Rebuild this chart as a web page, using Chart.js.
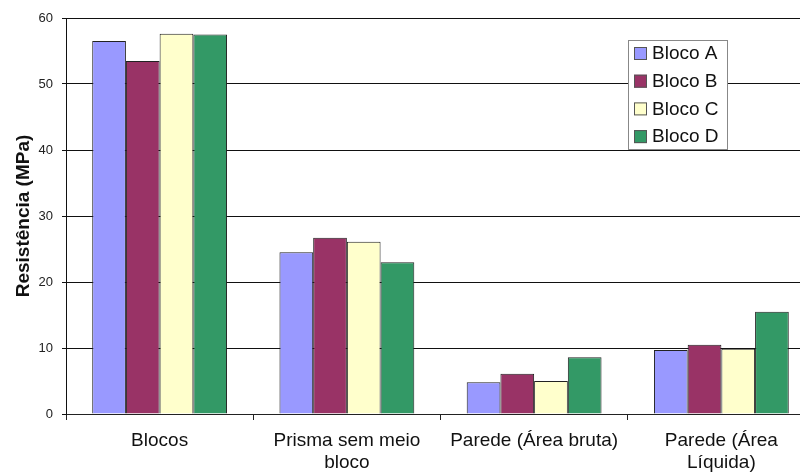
<!DOCTYPE html>
<html>
<head>
<meta charset="utf-8">
<script src="https://cdn.jsdelivr.net/npm/chart.js@4/dist/chart.umd.min.js"></script>
<style>
  html, body { margin: 0; padding: 0; background: #fff; overflow: hidden; }
  #wrap { width: 815px; height: 475px; }
</style>
</head>
<body>
<div id="wrap"><canvas id="chart" width="815" height="475"></canvas></div>
<script>
const categories = [
  'Blocos',
  ['Prisma sem meio', 'bloco'],
  'Parede (Área bruta)',
  ['Parede (Área', 'Líquida)']
];
const blocoA = [56.5, 24.5, 4.8, 9.7];
const blocoB = [53.5, 26.7, 6.1, 10.5];
const blocoC = [57.6, 26.1, 5.0, 9.9];
const blocoD = [57.5, 23.0, 8.6, 15.5];
const yTicks = [0, 10, 20, 30, 40, 50, 60];

const seriesNames = ['Bloco A', 'Bloco B', 'Bloco C', 'Bloco D'];
const seriesColors = ['#9999FF', '#993366', '#FFFFCC', '#339966'];

// legend box drawn inside the plot, top right
const boxLegend = {
  id: 'boxLegend',
  afterDraw(chart) {
    const ctx = chart.ctx;
    const x = 628, y = 40, w = 99, h = 109;
    ctx.save();
    ctx.fillStyle = '#fff';
    ctx.fillRect(x, y, w, h);
    ctx.strokeStyle = '#888';
    ctx.lineWidth = 1;
    ctx.strokeRect(x + 0.5, y + 0.5, w, h);
    ctx.font = '19px Arial';
    ctx.textBaseline = 'middle';
    chart.data.datasets.forEach((ds, i) => {
      const cy = y + 13 + i * 27.7;
      ctx.fillStyle = ds.backgroundColor;
      ctx.fillRect(x + 6, cy - 6, 13, 13);
      ctx.strokeStyle = '#555';
      ctx.strokeRect(x + 6.5, cy - 5.5, 12, 12);
      ctx.fillStyle = '#111';
      ctx.fillText(ds.label, x + 24, cy + 1);
    });
    ctx.restore();
  }
};

const values = [blocoA, blocoB, blocoC, blocoD];

new Chart(document.getElementById('chart'), {
  type: 'bar',
  data: {
    labels: categories,
    datasets: values.map((v, i) => ({
      label: seriesNames[i],
      data: v,
      backgroundColor: seriesColors[i],
      borderColor: '#222',
      borderWidth: 1,
      categoryPercentage: 0.72,
      barPercentage: 1.0
    }))
  },
  options: {
    responsive: false,
    animation: false,
    layout: { padding: { top: 18, left: 0, right: 0, bottom: 0 } },
    plugins: {
      legend: { display: false },
      tooltip: { enabled: false }
    },
    scales: {
      x: {
        afterFit(scale) { scale.height = 61; },
        grid: {
          offset: true,
          drawOnChartArea: false,
          drawTicks: true,
          tickLength: 6,
          color: '#222'
        },
        border: { color: '#222', width: 1 },
        ticks: {
          color: '#111',
          font: { family: 'Arial', size: 19 },
          padding: 9,
          maxRotation: 0,
          autoSkip: false
        }
      },
      y: {
        min: 0,
        max: 60,
        afterFit(scale) { scale.width = 66; },
        afterBuildTicks(scale) { scale.ticks = yTicks.map(v => ({ value: v })); },
        grid: {
          color: '#111',
          lineWidth: 1,
          drawTicks: true,
          tickLength: 4
        },
        border: { color: '#111', width: 1 },
        ticks: {
          color: '#222',
          font: { family: 'Arial', size: 13 },
          padding: 9
        },
        title: {
          display: true,
          text: 'Resistência (MPa)',
          color: '#111',
          font: { family: 'Arial', size: 19, weight: 'bold' },
          padding: { top: 12, bottom: 0 }
        }
      }
    }
  },
  plugins: [boxLegend]
});
</script>
</body>
</html>
